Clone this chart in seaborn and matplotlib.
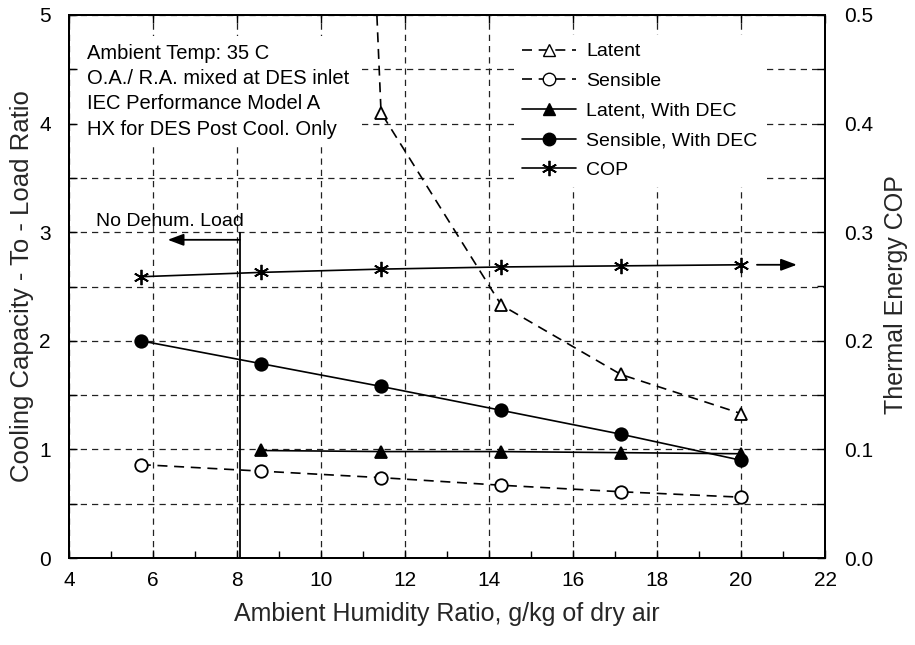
import numpy as np
import pandas as pd
import matplotlib
matplotlib.use("Agg")
import matplotlib.pyplot as plt
from matplotlib.ticker import MultipleLocator, FormatStrFormatter
from matplotlib.lines import Line2D
import seaborn as sns

# ---- data ----
humidity = [5.71, 8.57, 11.43, 14.29, 17.14, 20.0]
latent = [np.nan, 30.0, 4.10, 2.33, 1.69, 1.33]
sensible = [0.86, 0.80, 0.74, 0.67, 0.61, 0.56]
latent_dec = [np.nan, 0.99, 0.98, 0.98, 0.97, 0.96]
sensible_dec = [2.00, 1.79, 1.58, 1.36, 1.14, 0.90]
cop = [0.259, 0.263, 0.266, 0.268, 0.269, 0.270]

series_labels = ["Latent", "Sensible", "Latent, With DEC", "Sensible, With DEC", "COP"]
notes = ["Ambient Temp: 35 C", "O.A./ R.A. mixed at DES inlet",
         "IEC Performance Model A", "HX for DES Post Cool. Only"]
no_dehum_label = "No Dehum. Load"
no_dehum_x = 8.07
no_dehum_arrow_end = 6.35
no_dehum_arrow_y = 2.93
cop_arrow = (20.38, 21.33)

sns.set_theme(style="white")
plt.rcParams["font.family"] = ["Liberation Sans", "DejaVu Sans"]
plt.rcParams["text.color"] = "black"

fig = plt.figure(figsize=(9.15, 6.45), dpi=100)
ax = fig.add_axes([69/915, 1-558/645, (825-69)/915, (558-15)/645])
ax2 = ax.twinx()

df = pd.DataFrame({"x": humidity, "latent": latent, "sensible": sensible,
                   "latent_dec": latent_dec, "sensible_dec": sensible_dec, "cop": cop})

k = dict(color="black", lw=1.2, markeredgecolor="black", markeredgewidth=1.3)
sns.lineplot(data=df, x="x", y="latent", ax=ax, marker="^", markersize=9,
             markerfacecolor="white", linestyle=(0, (6, 4)), **k)
sns.lineplot(data=df, x="x", y="sensible", ax=ax, marker="o", markersize=9,
             markerfacecolor="white", linestyle=(0, (6, 4)), **k)
sns.lineplot(data=df, x="x", y="latent_dec", ax=ax, marker="^", markersize=9,
             markerfacecolor="black", linestyle="-", **k)
sns.lineplot(data=df, x="x", y="sensible_dec", ax=ax, marker="o", markersize=9,
             markerfacecolor="black", linestyle="-", **k)
sns.lineplot(data=df, x="x", y="cop", ax=ax2, marker=(6, 2, 0), markersize=11,
             linestyle="-", **k)

ax.set_xlim(4, 22)
ax.set_ylim(0, 5)
ax2.set_ylim(0, 0.5)

ax.xaxis.set_major_locator(MultipleLocator(2))
ax.xaxis.set_minor_locator(MultipleLocator(1))
ax.yaxis.set_major_locator(MultipleLocator(1))
ax.yaxis.set_minor_locator(MultipleLocator(0.5))
ax2.yaxis.set_major_locator(MultipleLocator(0.1))
ax2.yaxis.set_minor_locator(MultipleLocator(0.05))
ax2.yaxis.set_major_formatter(FormatStrFormatter("%.1f"))

ax.xaxis.grid(True, which="major", color="#222222", linestyle=(0, (5, 4)), lw=0.9)
ax.yaxis.grid(True, which="both", color="#222222", linestyle=(0, (5, 4)), lw=0.9)
ax2.grid(False)

ax.tick_params(axis="x", which="both", direction="in", bottom=True, top=True,
               labelsize=15, pad=9, colors="black")
ax.tick_params(axis="x", which="major", length=6, width=1)
ax.tick_params(axis="x", which="minor", length=5, width=1, top=False)
ax.tick_params(axis="y", which="both", direction="in", left=True, right=False,
               labelsize=15, pad=13, length=6, width=1, colors="black")
ax2.tick_params(axis="y", which="both", direction="in", right=True,
                labelsize=15, pad=14, length=6, width=1, colors="black")

for a in (ax, ax2):
    for s in a.spines.values():
        s.set_color("black")
        s.set_linewidth(1.4)

ax.set_xlabel("Ambient Humidity Ratio, g/kg of dry air", fontsize=18, labelpad=9)
ax.set_ylabel("Cooling Capacity - To - Load Ratio", fontsize=18.5, labelpad=4)
ax2.set_ylabel("Thermal Energy COP", fontsize=18, labelpad=10)
ax2.yaxis.set_label_coords(1.078, 0.485)

# notes box
ax.text(4.43, 4.735, "\n".join(notes), fontsize=14.5, va="top", ha="left",
        linespacing=1.42, zorder=5,
        bbox=dict(facecolor="white", edgecolor="none", pad=6))

# No dehum load bracket
ax.vlines(no_dehum_x, 0, 3, color="black", lw=1.3, zorder=4)
ax.annotate("", xy=(no_dehum_arrow_end, no_dehum_arrow_y),
            xytext=(no_dehum_x, no_dehum_arrow_y),
            arrowprops=dict(arrowstyle="-|>,head_length=0.8,head_width=0.3",
                            color="black", lw=1.3, shrinkA=0, shrinkB=0))
ax.text(4.65, 3.1, no_dehum_label, fontsize=14, va="center", ha="left")

# COP arrow
ax2.annotate("", xy=(cop_arrow[1], cop[-1]), xytext=(cop_arrow[0], cop[-1]),
             arrowprops=dict(arrowstyle="-|>,head_length=0.8,head_width=0.3",
                             color="black", lw=1.3, shrinkA=0, shrinkB=0))

# legend
handles = [
    Line2D([], [], color="black", lw=1.2, linestyle=(0, (6, 4)), marker="^",
           markersize=9, markerfacecolor="white", markeredgecolor="black"),
    Line2D([], [], color="black", lw=1.2, linestyle=(0, (6, 4)), marker="o",
           markersize=9, markerfacecolor="white", markeredgecolor="black"),
    Line2D([], [], color="black", lw=1.2, linestyle="-", marker="^",
           markersize=9, markerfacecolor="black", markeredgecolor="black"),
    Line2D([], [], color="black", lw=1.2, linestyle="-", marker="o",
           markersize=9, markerfacecolor="black", markeredgecolor="black"),
    Line2D([], [], color="black", lw=1.2, linestyle="-", marker=(6, 2, 0),
           markersize=11, markeredgecolor="black", markeredgewidth=1.3),
]
leg = ax2.legend(handles, series_labels, loc="upper left",
                 bbox_to_anchor=((514-69)/756, 1-(35-15)/543),
                 fontsize=14, frameon=True, framealpha=1, edgecolor="none",
                 facecolor="white", handlelength=2.8, handletextpad=0.5,
                 labelspacing=0.62, borderpad=0.4, borderaxespad=0, numpoints=1)
leg.get_frame().set_linewidth(0)

fig.savefig("out.png", dpi=100)
